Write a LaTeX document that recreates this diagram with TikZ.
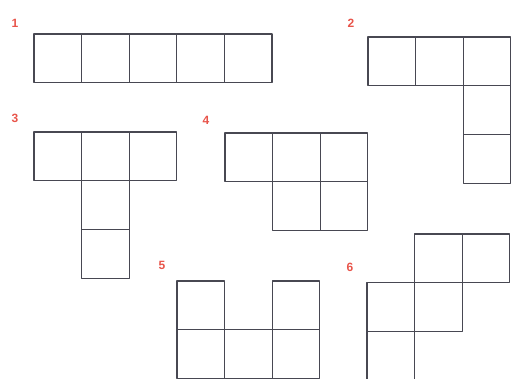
\documentclass[tikz,border=0pt]{standalone}
\usepackage{fontspec}
\setsansfont{Liberation Sans}
\definecolor{netLabelColor}{RGB}{232,84,74}
\definecolor{netLineColor}{RGB}{72,72,82}
\begin{document}
\begin{tikzpicture}
% cube nets, drawn cell by cell
\def\cellw{47.6pt}
\def\cellh{48.8pt}
\providecommand{\netLineWidth}{1.2pt}
\tikzset{
  netcell/.style={draw=netLineColor, line width=\netLineWidth, line join=round},
  netlabel/.style={text=netLabelColor, font=\fontsize{12}{12}\sffamily\bfseries, inner sep=0pt}
}
\useasboundingbox (0,0) rectangle (511pt,-378pt);
\clip (0,0) rectangle (511pt,-378pt);
% Labels
\node[netlabel] (lab1) at (15pt,-23pt) {1};
\node[netlabel] (lab2) at (351pt,-23pt) {2};
\node[netlabel] (lab3) at (15pt,-118pt) {3};
\node[netlabel] (lab4) at (206pt,-120pt) {4};
\node[netlabel] (lab5) at (162pt,-265pt) {5};
\node[netlabel] (lab6) at (350pt,-267pt) {6};
% Net 1
\begin{scope}[xshift=34pt, yshift=-34pt, x=\cellw, y=-\cellh]
  \foreach \i/\j in {0/0,1/0,2/0,3/0,4/0}
    \draw[netcell] (\i,\j) rectangle ++(1,1);
\end{scope}
% Net 2
\begin{scope}[xshift=368pt, yshift=-37pt, x=\cellw, y=-\cellh]
  \foreach \i/\j in {0/0,1/0,2/0,2/1,2/2}
    \draw[netcell] (\i,\j) rectangle ++(1,1);
\end{scope}
% Net 3
\begin{scope}[xshift=34pt, yshift=-132pt, x=\cellw, y=-\cellh]
  \foreach \i/\j in {0/0,1/0,2/0,1/1,1/2}
    \draw[netcell] (\i,\j) rectangle ++(1,1);
\end{scope}
% Net 4
\begin{scope}[xshift=225pt, yshift=-133pt, x=\cellw, y=-\cellh]
  \foreach \i/\j in {0/0,1/0,2/0,1/1,2/1}
    \draw[netcell] (\i,\j) rectangle ++(1,1);
\end{scope}
% Net 5
\begin{scope}[xshift=177pt, yshift=-281pt, x=\cellw, y=-\cellh]
  \foreach \i/\j in {0/0,2/0,0/1,1/1,2/1}
    \draw[netcell] (\i,\j) rectangle ++(1,1);
\end{scope}
% Net 6
\begin{scope}[xshift=367pt, yshift=-234pt, x=\cellw, y=-\cellh]
  \foreach \i/\j in {1/0,2/0,0/1,1/1,0/2}
    \draw[netcell] (\i,\j) rectangle ++(1,1);
\end{scope}
\end{tikzpicture}
\end{document}
